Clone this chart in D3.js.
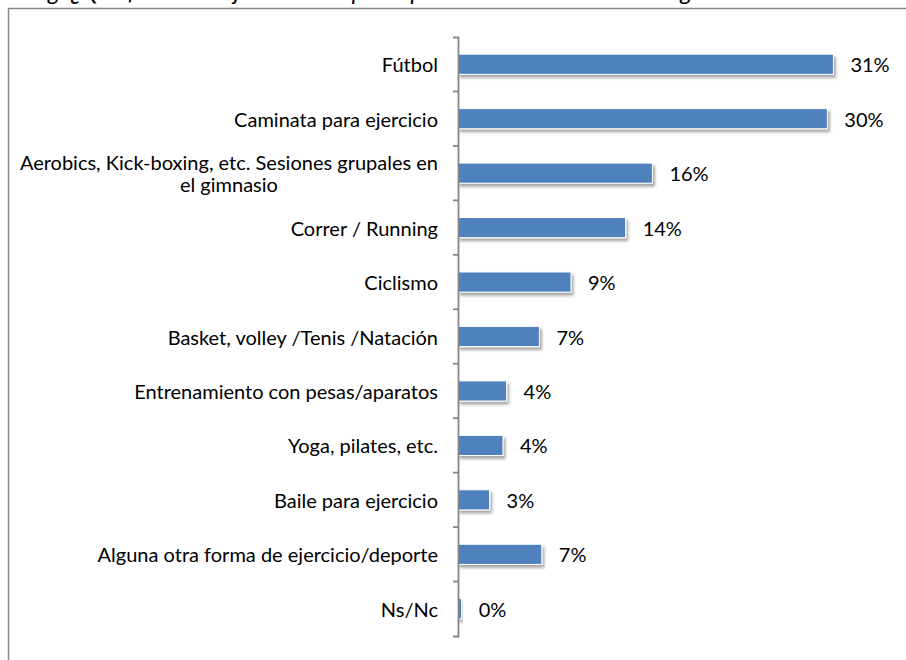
<!DOCTYPE html>
<html>
<head>
<meta charset="utf-8">
<script src="https://cdn.jsdelivr.net/npm/d3@7"></script>
<style>
  html, body { margin: 0; padding: 0; background: #fff; }
  svg { display: block; }
</style>
</head>
<body>
<svg id="chart" width="906" height="660"></svg>
<script>
const titleText = "Fig. ¿Qué forma de ejercicio o deporte practica usted ahora con regularidad?";
const categories = [
  "Fútbol",
  "Caminata para ejercicio",
  "Aerobics, Kick-boxing, etc. Sesiones grupales en el gimnasio",
  "Correr / Running",
  "Ciclismo",
  "Basket, volley /Tenis /Natación",
  "Entrenamiento con pesas/aparatos",
  "Yoga, pilates, etc.",
  "Baile para ejercicio",
  "Alguna otra forma de ejercicio/deporte",
  "Ns/Nc"
];
const values = [30.9, 30.4, 16.0, 13.8, 9.3, 6.7, 4.0, 3.7, 2.6, 6.9, 0.3];
const valueLabels = ["31%", "30%", "16%", "14%", "9%", "7%", "4%", "4%", "3%", "7%", "0%"];

const FONT = "Lato, 'Open Sans', sans-serif";
const FS = 20;

const svg = d3.select("#chart");

// drop shadow filter
const defs = svg.append("defs");
const f = defs.append("filter").attr("id", "shadow")
  .attr("x", "-10%").attr("y", "-30%").attr("width", "130%").attr("height", "190%");
f.append("feDropShadow").attr("dx", 2).attr("dy", 3).attr("stdDeviation", 1.6)
  .attr("flood-color", "#000").attr("flood-opacity", 0.35);

// title (cut off at top, as in the source image)
svg.append("text")
  .attr("x", 30).attr("y", 0)
  .attr("font-family", FONT).attr("font-style", "italic")
  .attr("font-size", 24).attr("fill", "#000")
  .text(titleText);

// chart border
svg.append("rect")
  .attr("x", 8.5).attr("y", 8.5).attr("width", 1000).attr("height", 1000)
  .attr("fill", "#fff").attr("stroke", "#878787").attr("stroke-width", 1.5);

const x = d3.scaleLinear().domain([0, 35]).range([458, 458 + 35 * 12.15]);
const y = d3.scaleBand().domain(categories).range([37, 636])
  .paddingInner(0.63).paddingOuter(0.315);

// bars
svg.append("g").selectAll("rect")
  .data(categories)
  .join("rect")
  .attr("x", x(0))
  .attr("y", d => y(d))
  .attr("width", (d, i) => Math.max(0, x(values[i]) - x(0)))
  .attr("height", y.bandwidth())
  .attr("fill", "#4F81BD")
  .attr("stroke", "#ffffff")
  .attr("stroke-width", 1)
  .attr("filter", "url(#shadow)");

// axis
const axis = d3.axisLeft(y).tickSize(0).tickSizeOuter(5).tickFormat("");
const ag = svg.append("g").attr("transform", `translate(${x(0)},0)`).call(axis);
ag.select(".domain").attr("stroke", "#868686").attr("stroke-width", 1.8);
// ticks between categories
ag.selectAll(".sep")
  .data(categories.slice(1))
  .join("line")
  .attr("class", "sep")
  .attr("x1", -5).attr("x2", 0)
  .attr("y1", d => y(d) - y.step() * y.paddingInner() / 2)
  .attr("y2", d => y(d) - y.step() * y.paddingInner() / 2)
  .attr("stroke", "#868686").attr("stroke-width", 1.8);

// category labels
const labelRight = x(0) - 20;
const maxLabelW = 425;
const lg = svg.append("g").attr("font-family", FONT).attr("font-size", FS).attr("fill", "#000");
categories.forEach((c, i) => {
  const cy = y(c) + y.bandwidth() / 2;
  const t = lg.append("text").attr("dominant-baseline", "central").text(c);
  const w = t.node().getComputedTextLength();
  if (w <= maxLabelW) {
    t.attr("x", labelRight).attr("y", cy).attr("text-anchor", "end");
  } else {
    const words = c.split(" ");
    const lines = [];
    let cur = "";
    t.text("");
    words.forEach(wd => {
      const test = cur ? cur + " " + wd : wd;
      t.text(test);
      if (t.node().getComputedTextLength() > maxLabelW && cur) {
        lines.push(cur);
        cur = wd;
      } else {
        cur = test;
      }
    });
    lines.push(cur);
    let mw = 0;
    lines.forEach(l => { t.text(l); mw = Math.max(mw, t.node().getComputedTextLength()); });
    t.text("");
    const lh = 22;
    const cx = labelRight - mw / 2;
    t.attr("text-anchor", "middle");
    lines.forEach((l, k) => {
      t.append("tspan").attr("x", cx)
        .attr("y", cy + (k - (lines.length - 1) / 2) * lh)
        .attr("dominant-baseline", "central")
        .text(l);
    });
  }
});

// value labels
svg.append("g").attr("font-family", FONT).attr("font-size", FS).attr("fill", "#000")
  .selectAll("text")
  .data(categories)
  .join("text")
  .attr("x", (d, i) => x(values[i]) + 17)
  .attr("y", d => y(d) + y.bandwidth() / 2)
  .attr("dominant-baseline", "central")
  .text((d, i) => valueLabels[i]);
</script>
</body>
</html>
